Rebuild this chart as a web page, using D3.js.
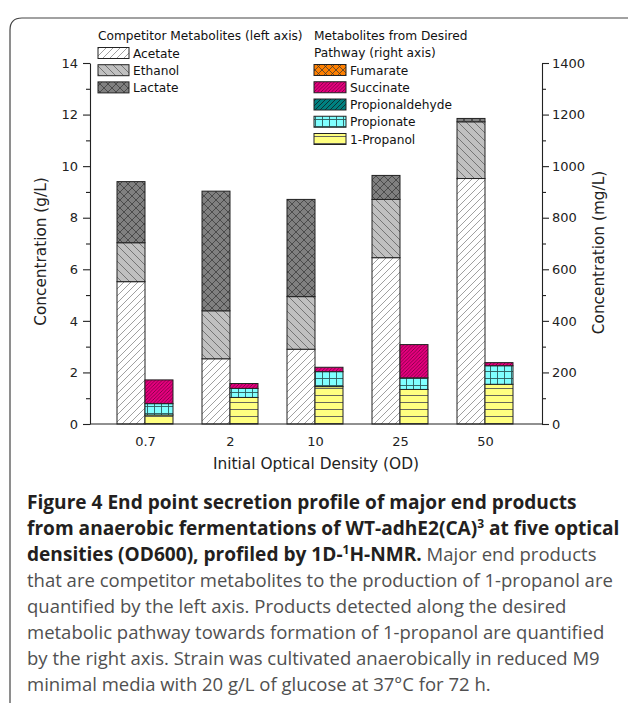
<!DOCTYPE html>
<html><head><meta charset="utf-8">
<script src="https://cdn.jsdelivr.net/npm/d3@7"></script>
<style>body{margin:0;background:#fff}svg{display:block}</style>
</head><body>
<svg id="c" width="628" height="703"></svg>
<script>
// ---- data ----
const categories = ["0.7", "2", "10", "25", "50"];
// competitor metabolites (g/L, left axis)
const acetate = [5.52, 2.53, 2.90, 6.45, 9.52];
const ethanol = [1.51, 1.86, 2.04, 2.26, 2.20];
const lactate = [2.37, 4.64, 3.77, 0.93, 0.13];
// desired pathway metabolites (mg/L, right axis)
const propanol = [35, 103, 145, 134, 154];
const propionate = [44, 35, 58, 45, 72];
const propionaldehyde = [0, 0, 0, 0, 0];
const succinate = [92, 19, 17, 129, 12];
const fumarate = [0, 0, 0, 0, 0];
const leftTicks = [0, 2, 4, 6, 8, 10, 12, 14];
const leftMinor = [1, 3, 5, 7, 9, 11, 13];
const rightTicks = [0, 200, 400, 600, 800, 1000, 1200, 1400];
const rightMinor = [100, 300, 500, 700, 900, 1100, 1300];
const leftKeys = ["Acetate", "Ethanol", "Lactate"];
const rightKeys = ["1-Propanol", "Propionate", "Propionaldehyde", "Succinate", "Fumarate"];

const svg = d3.select("#c");
const FONT = "'DejaVu Sans', sans-serif";
const plotL = 90, plotR = 542, plotT = 63, plotB = 424;
const barW = 28;

// ---- patterns ----
const defs = svg.append("defs");
function pat(id, bg, s, d, color, sw) {
  const p = defs.append("pattern").attr("id", id).attr("patternUnits", "userSpaceOnUse")
    .attr("width", s).attr("height", s);
  p.append("rect").attr("width", s).attr("height", s).attr("fill", bg);
  p.append("path").attr("d", d).attr("stroke", color).attr("stroke-width", sw).attr("fill", "none");
}
const fwd = s => `M${-s/4},${s/4}l${s/2},${-s/2}M0,${s}l${s},${-s}M${3*s/4},${5*s/4}l${s/2},${-s/2}`;
const bwd = s => `M${-s/4},${3*s/4}l${s/2},${s/2}M0,0l${s},${s}M${3*s/4},${-s/4}l${s/2},${s/2}`;
pat("p-Acetate", "#ffffff", 7, fwd(7), "#777", 0.7);
pat("p-Ethanol", "#c0c0c0", 8, bwd(8), "#555", 0.7);
pat("p-Lactate", "#808080", 8, fwd(8) + bwd(8), "#333", 0.7);
pat("p-Fumarate", "#ff8000", 7, fwd(7) + bwd(7), "#333", 0.7);
pat("p-Succinate", "#e6007e", 3.5, fwd(3.5), "#4a0028", 0.6);
pat("p-Propionaldehyde", "#008080", 5, fwd(5), "#111", 0.7);
pat("p-Propionate", "#80ffff", 7, "M0,0.5H7M0.5,0V7", "#2d5a5a", 0.9);
pat("p-1-Propanol", "#ffff80", 7, "M0,3.5H7", "#555", 0.9);

// ---- scales ----
const x = d3.scalePoint().domain(categories).range([145, 485]);
const yL = d3.scaleLinear().domain([0, 14]).range([plotB, plotT]);
const yR = d3.scaleLinear().domain([0, 1400]).range([plotB, plotT]);

const leftRows = categories.map((c, i) => ({cat: c, Acetate: acetate[i], Ethanol: ethanol[i], Lactate: lactate[i]}));
const rightRows = categories.map((c, i) => ({cat: c, "1-Propanol": propanol[i], Propionate: propionate[i],
  Propionaldehyde: propionaldehyde[i], Succinate: succinate[i], Fumarate: fumarate[i]}));
const stL = d3.stack().keys(leftKeys)(leftRows);
const stR = d3.stack().keys(rightKeys)(rightRows);

const bars = svg.append("g");
stL.forEach(layer => {
  bars.selectAll(null).data(layer.filter(d => d[1] - d[0] > 0)).join("rect")
    .attr("x", d => x(d.data.cat) - barW).attr("width", barW)
    .attr("y", d => yL(d[1])).attr("height", d => yL(d[0]) - yL(d[1]))
    .attr("fill", `url(#p-${layer.key})`).attr("stroke", "#222").attr("stroke-width", 1);
});
stR.forEach(layer => {
  bars.selectAll(null).data(layer.filter(d => d[1] - d[0] > 0)).join("rect")
    .attr("x", d => x(d.data.cat)).attr("width", barW)
    .attr("y", d => yR(d[1])).attr("height", d => yR(d[0]) - yR(d[1]))
    .attr("fill", `url(#p-${layer.key})`).attr("stroke", "#222").attr("stroke-width", 1);
});

// ---- axes ----
function style(g) {
  g.attr("font-family", FONT).attr("font-size", 13);
  g.selectAll("path,line").attr("stroke", "#222").attr("stroke-width", 1.1);
  g.selectAll("text").attr("font-family", FONT).attr("font-size", 13).attr("fill", "#222");
}
svg.append("g").attr("transform", `translate(${plotL},0)`)
  .call(d3.axisLeft(yL).tickValues(leftTicks).tickSize(7).tickSizeOuter(0).tickPadding(5)).call(style);
svg.append("g").attr("transform", `translate(${plotL},0)`)
  .call(d3.axisLeft(yL).tickValues(leftMinor).tickSize(4).tickFormat("")).call(style)
  .select(".domain").remove();
svg.append("g").attr("transform", `translate(${plotR},0)`)
  .call(d3.axisRight(yR).tickValues(rightTicks).tickFormat(d3.format("d")).tickSize(7).tickSizeOuter(0).tickPadding(3)).call(style);
svg.append("g").attr("transform", `translate(${plotR},0)`)
  .call(d3.axisRight(yR).tickValues(rightMinor).tickSize(4).tickFormat("")).call(style)
  .select(".domain").remove();
const xa = svg.append("g").attr("transform", `translate(0,${plotB})`)
  .call(d3.axisBottom(x).tickSize(0).tickPadding(13)).call(style);
xa.select(".domain").remove();
svg.append("line").attr("x1", plotL).attr("x2", plotR).attr("y1", plotB).attr("y2", plotB)
  .attr("stroke", "#222").attr("stroke-width", 1.1);

// axis titles
svg.append("text").attr("transform", `translate(46,${(plotT + plotB) / 2 + 8}) rotate(-90)`)
  .attr("text-anchor", "middle").attr("font-family", FONT).attr("font-size", 15.3).attr("fill", "#222")
  .text("Concentration (g/L)");
svg.append("text").attr("transform", `translate(604,${(plotT + plotB) / 2 + 9}) rotate(-90)`)
  .attr("text-anchor", "middle").attr("font-family", FONT).attr("font-size", 15.3).attr("fill", "#222")
  .text("Concentration (mg/L)");
svg.append("text").attr("x", 316).attr("y", 469).attr("text-anchor", "middle")
  .attr("font-family", FONT).attr("font-size", 15.4).attr("fill", "#222").text("Initial Optical Density (OD)");

// ---- legend ----
const lg = svg.append("g").attr("font-family", FONT).attr("font-size", 12.2).attr("fill", "#111");
lg.append("text").attr("x", 98).attr("y", 39.5).text("Competitor Metabolites (left axis)");
leftKeys.forEach((k, i) => {
  const cy = 53 + i * 17.2;
  lg.append("rect").attr("x", 98).attr("y", cy - 5.5).attr("width", 31).attr("height", 11)
    .attr("fill", `url(#p-${k})`).attr("stroke", "#222");
  lg.append("text").attr("x", 133).attr("y", cy + 4.5).text(k);
});
lg.append("text").attr("x", 314).attr("y", 39.5).text("Metabolites from Desired");
lg.append("text").attr("x", 314).attr("y", 56.8).text("Pathway (right axis)");
rightKeys.slice().reverse().forEach((k, i) => {
  const cy = 70 + i * 17.25;
  lg.append("rect").attr("x", 314).attr("y", cy - 5.5).attr("width", 32).attr("height", 11)
    .attr("fill", `url(#p-${k})`).attr("stroke", "#222");
  lg.append("text").attr("x", 350).attr("y", cy + 4.5).text(k);
});

// ---- frame ----
svg.append("path").attr("d", "M628,18H22Q10,18 10,30V703").attr("fill", "none")
  .attr("stroke", "#444").attr("stroke-width", 1.2);

// ---- caption ----
const CF = "'Open Sans', 'Noto Sans', sans-serif";
const cap = svg.append("g").attr("font-family", CF);
const lines = [
  [["b", "Figure 4 End point secretion profile of major end products"]],
  [["b", "from anaerobic fermentations of WT-adhE2(CA)"], ["bs", "3"], ["b", " at five optical"]],
  [["b", "densities (OD600), profiled by 1D-"], ["bs", "1"], ["b", "H-NMR."], ["r", " Major end products"]],
  [["r", "that are competitor metabolites to the production of 1-propanol are"]],
  [["r", "quantified by the left axis. Products detected along the desired"]],
  [["r", "metabolic pathway towards formation of 1-propanol are quantified"]],
  [["r", "by the right axis. Strain was cultivated anaerobically in reduced M9"]],
  [["r", "minimal media with 20 g/L of glucose at 37°C for 72 h."]]
];
lines.forEach((ln, i) => {
  const t = cap.append("text").attr("x", 27).attr("y", 509 + i * 26);
  ln.forEach(([k, s]) => {
    const sp = t.append("tspan").text(s);
    if (k[0] === "b") sp.attr("font-weight", "bold").attr("fill", "#231f20").attr("font-size", 19.1);
    else sp.attr("fill", "#505050").attr("font-size", 18.5);
    if (k === "bs") sp.attr("font-size", 12).attr("baseline-shift", "7");
  });
});
</script>
</body></html>
